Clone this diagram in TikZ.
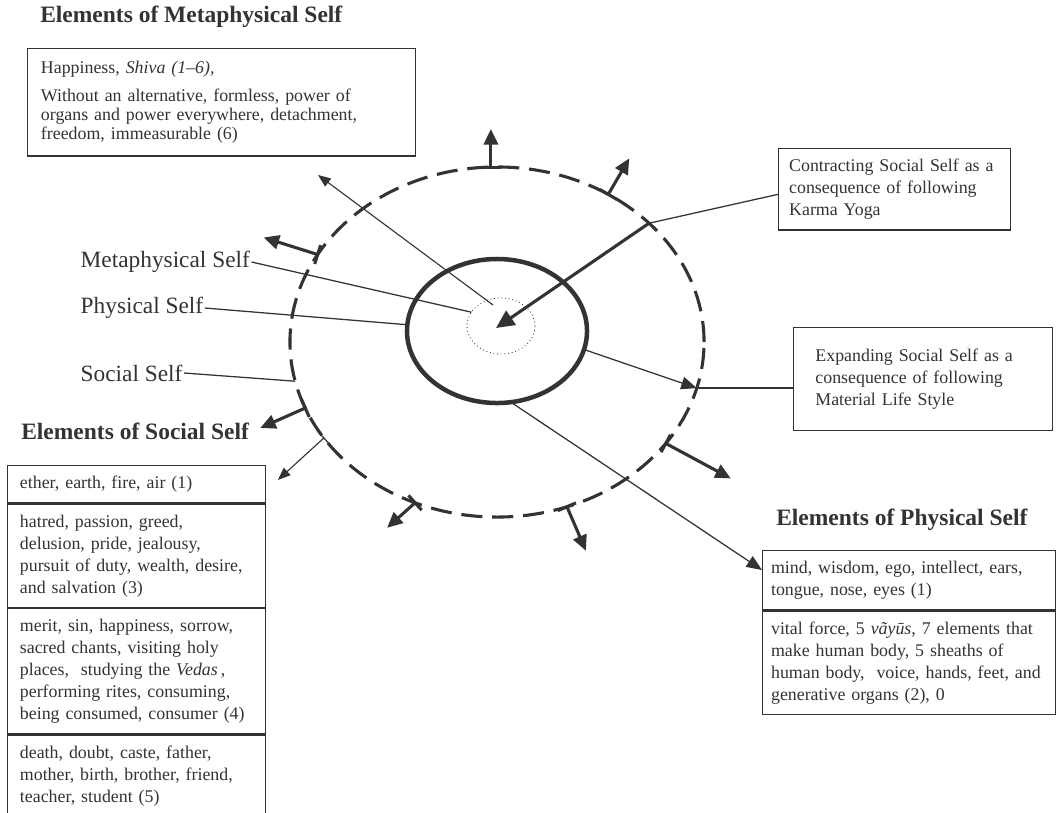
\documentclass[tikz,border=0pt]{standalone}
\usepackage{fontspec}
\setmainfont{Liberation Serif}
\usetikzlibrary{arrows.meta, positioning, calc, shapes}
\definecolor{inkGray}{HTML}{333333}
\newcommand{\boxfont}{\fontsize{12.7}{15.6}\selectfont}

\begin{document}
\begin{tikzpicture}[
x=0.025cm, y=-0.025cm,
color=inkGray,
title/.style={font=\fontsize{16.7}{20}\selectfont\bfseries, inner sep=0pt, anchor=west},
selflabel/.style={font=\fontsize{16.6}{20}\selectfont, inner sep=1pt, anchor=west},
box/.style={
draw,
line width=0.9pt,
align=left,
font=\boxfont,
inner xsep=9.5pt,
inner ysep=7.5pt
},
bigarrow/.style={line width=2.2pt, -{Triangle[length=11pt, width=10pt]}},
thinarrow/.style={line width=0.8pt, -{Triangle[length=9pt, width=7pt]}},
midarrow/.style={line width=0.9pt, -{Triangle[length=11pt, width=9pt]}},
leader/.style={line width=0.9pt}
]

\useasboundingbox (0,0) rectangle (1056,812);

\node[ellipse, draw, outer sep=0pt, line width=2.2pt, dash pattern=on 15pt off 7pt,
minimum width=10.35cm, minimum height=8.75cm] (social) at (497,342) {};
\node[ellipse, draw, outer sep=0pt, line width=3.2pt,
minimum width=4.5cm, minimum height=3.6cm] (physical) at (497,331) {};
\node[ellipse, draw, outer sep=0pt, line width=0.6pt, dotted,
minimum width=1.7cm, minimum height=1.4cm] (meta) at (501,326) {};

\node[title] (mtitle) at (40,17) {Elements of Metaphysical Self};
\node[title] (stitle) at (21,431) {Elements of Social Self};
\node[title] (ptitle) at (776,520) {Elements of Physical Self};

\node[box, anchor=north west, text width=257pt, inner ysep=9pt,
font=\fontsize{12.7}{13.5}\selectfont] (mbox) at (27,48)
{Happiness, \textit{Shiva (1--6),}\\[6.4pt]
Without an alternative, formless, power of\\
organs and power everywhere, detachment,\\
freedom, immeasurable (6)};

\node[box, anchor=north west, text width=150pt, inner xsep=7.5pt] (cbox) at (778,148)
{Contracting Social Self as a\\consequence of following\\Karma Yoga};

\node[box, anchor=north west, text width=153pt, inner xsep=15.5pt, inner ysep=15pt] (ebox) at (793,327)
{Expanding Social Self as a\\consequence of following\\Material Life Style};

\node[box, anchor=north west, text width=166pt, inner xsep=8.75pt] (srow1) at (7,465)
{ether, earth, fire, air (1)};
\node[box, text width=166pt, inner xsep=8.75pt, below=0pt of srow1] (srow2)
{hatred, passion, greed,\\delusion, pride, jealousy,\\pursuit of duty, wealth, desire,\\and salvation (3)};
\node[box, text width=166pt, inner xsep=8.75pt, below=0pt of srow2] (srow3)
{merit, sin, happiness, sorrow,\\sacred chants, visiting holy\\places,\ \ studying the \textit{Vedas}\,,\\performing rites, consuming,\\being consumed, consumer (4)};
\node[box, text width=166pt, inner xsep=8.75pt, below=0pt of srow3] (srow4)
{death, doubt, caste, father,\\mother, birth, brother, friend,\\teacher, student (5)};

\node[box, anchor=north west, text width=196pt, inner xsep=6pt] (prow1) at (762,550)
{mind, wisdom, ego, intellect, ears,\\tongue, nose, eyes (1)};
\node[box, text width=196pt, inner xsep=6pt, below=0pt of prow1] (prow2)
{vital force, 5 \textit{vãyūs}, 7 elements that\\make human body, 5 sheaths of\\human body,\ \ voice, hands, feet, and\\generative organs (2), 0};

\node[selflabel] (metalbl) at (79,262) {Metaphysical Self};
\node[selflabel] (physlbl) at (79,308) {Physical Self};
\node[selflabel] (soclbl) at (79,373) {Social Self};

\draw[leader] (metalbl.east) -- (meta.155);
\draw[leader] (physlbl.east) -- (physical.176);
\draw[leader] (soclbl.east) -- (social.191);

\coordinate (mtip) at (318,175);
\draw[thinarrow] ($(meta.center)+(-8,-21)$) -- (mtip);

\draw[leader] ($(cbox.west)+(0,5)$) -- (social.38);
\draw[line width=2.2pt, -{Triangle[length=13pt, width=12pt]}] (social.38) -- ($(meta.center)+(-5,2)$);

\draw[midarrow] (physical.348) -- (social.347);
\draw[leader] (social.347) -- (social.347 -| ebox.west);

\draw[midarrow] (physical.281) -- ($(prow1.north west)+(0,20)$);

\foreach \ang/\dx/\dy/\kind/\tw in {92/0/-38/bigarrow/2.2pt, 53/21/-36/bigarrow/2.2pt,
154/-54/-17/bigarrow/2.2pt, 199/-45/20/bigarrow/2.2pt, 209/-46/42/thinarrow/0.9pt,
243/-28/25/bigarrow/2.2pt, 293/19/44/bigarrow/2.2pt, 329/65/35/bigarrow/2.2pt}{
\draw[\kind] (social.\ang) -- ++(\dx,\dy) coordinate (tip);
\draw[line width=\tw] ($(social.\ang)!7pt!90:(tip)$) -- ($(social.\ang)!7pt!-90:(tip)$);
}

\end{tikzpicture}
\end{document}
